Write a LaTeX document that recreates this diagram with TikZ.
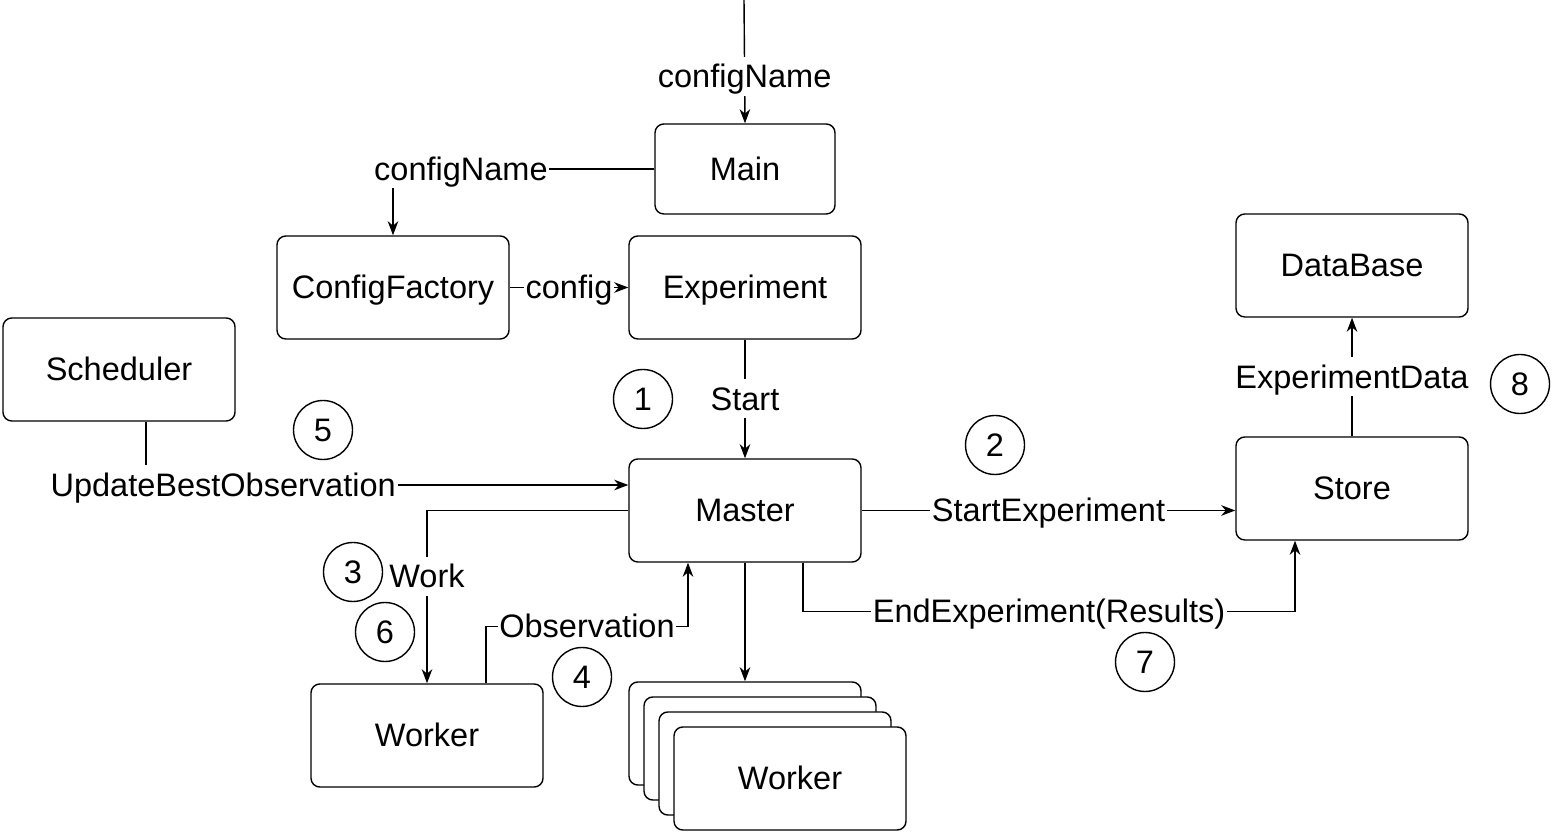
\documentclass[tikz,border=0pt]{standalone}
\usepackage{fontspec}
\setmainfont{Liberation Sans}
\usetikzlibrary{arrows.meta,shapes}

\begin{document}
\begin{tikzpicture}[>={Stealth[length=8pt,width=6pt,inset=2.5pt]}, line width=0.8pt,
    box/.style={draw, rounded corners=5pt, minimum width=4.64cm, minimum height=2.06cm, fill=white},
    lbl/.style={fill=white, inner sep=1pt},
    num/.style={draw, circle, minimum size=1.18cm, inner sep=0pt},
    every node/.style={font=\fontsize{18.5}{22}\selectfont, text height=16.5pt, text depth=3.7pt}]
            \useasboundingbox (0,0) rectangle (31.04,16.66);
            % boxes
            \node[box, minimum width=3.6cm, minimum height=1.8cm] (main) at (14.9,13.28) {Main};
            \node[box] (factory) at (7.86,10.91) {ConfigFactory};
            \node[box] (exp) at (14.9,10.91) {Experiment};
            \node[box] (sched) at (2.38,9.27) {Scheduler};
            \node[box] (db) at (27.04,11.35) {DataBase};
            \node[box] (master) at (14.9,6.45) {Master};
            \node[box] (store) at (27.04,6.89) {Store};
            \node[box] (worker) at (8.54,1.95) {Worker};
            \foreach \i in {0,...,2}{
                \node[box] (stack\i) at (14.9+0.3*\i,1.99-0.3*\i) {};
            }
            \node[box] (stack3) at (15.8,1.09) {Worker};
            % step numbers
            \node[num] (n1) at (12.86,8.68) {1};
            \node[num] (n2) at (19.9,7.76) {2};
            \node[num] (n3) at (7.06,5.22) {3};
            \node[num] (n4) at (11.64,3.12) {4};
            \node[num] (n5) at (6.46,8.06) {5};
            \node[num] (n6) at (7.7,4.02) {6};
            \node[num] (n7) at (22.9,3.42) {7};
            \node[num] (n8) at (30.4,8.98) {8};
            % connectors
            \coordinate (in) at (14.88,16.66);
            \draw[->] (in)--node[lbl,pos=0.62]{configName}(main.north);
            \draw[->] (main.west)-|node[lbl,pos=0.37]{configName}(factory.north);
            \draw[->] (factory.east)--node[lbl]{config}(exp.west);
            \draw[->] (exp.south)--node[lbl]{Start}(master.north);
            \draw[->] ([xshift=0.54cm]sched.south)|-node[lbl,pos=0.58]{UpdateBestObservation}([yshift=0.51cm]master.west);
            \draw[->] (master.west)-|node[lbl,pos=0.69]{Work}(worker.north);
            \draw[->] ([xshift=1.18cm]worker.north)|-node[lbl,pos=0.75]{Observation}([xshift=-1.14cm,yshift=-1.28cm]master.south)--([xshift=-1.14cm]master.south);
            \draw[->] (master.south)--(stack0.north);
            \draw[->] (master.east)--node[lbl]{StartExperiment}(store.west |- master.east);
            \draw[->] ([xshift=1.16cm]master.south)--++(0,-0.98)-|node[lbl,pos=0.25]{EndExperiment(Results)}([xshift=-1.14cm]store.south);
            \draw[->] (store.north)--node[lbl]{ExperimentData}(db.south);
        \end{tikzpicture}
\end{document}
